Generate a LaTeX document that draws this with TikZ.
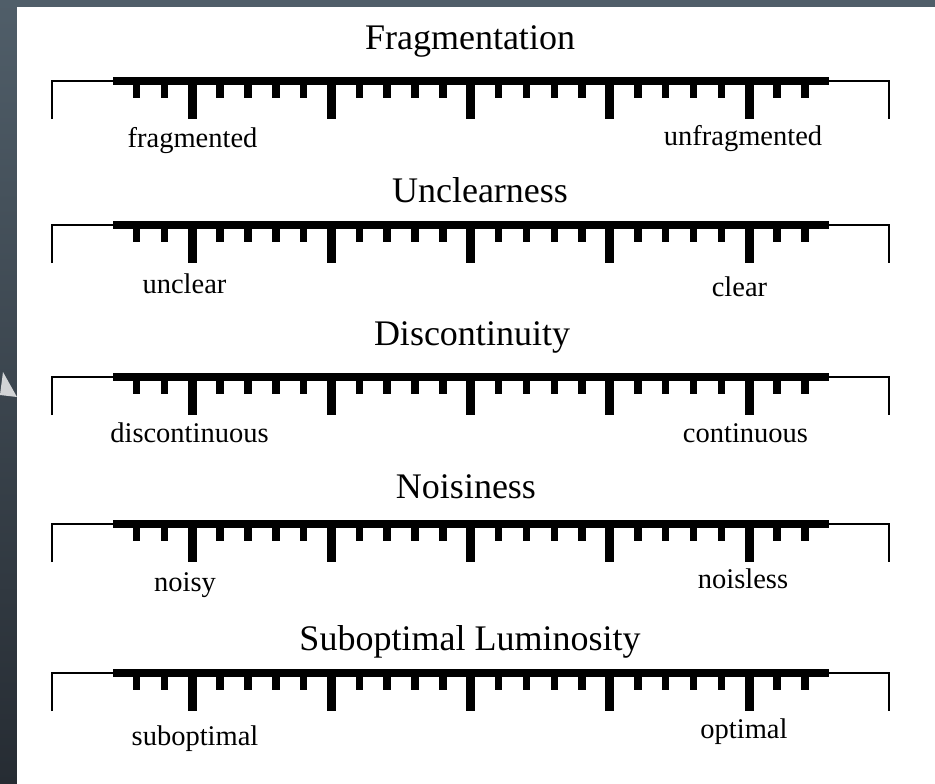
\documentclass[tikz,border=0pt]{standalone}
\usepackage{fontspec}
\setmainfont{Liberation Serif}
\usetikzlibrary{positioning}
\usetikzlibrary{calc}
\definecolor{slatetop}{RGB}{80,94,105}
\definecolor{slatebot}{RGB}{38,44,51}
\definecolor{arrowgray}{RGB}{210,212,214}

\begin{document}
\begin{tikzpicture}[x=1pt,y=-1pt,
  scaletitle/.style={anchor=base,inner sep=0pt,font=\fontsize{36}{40}\selectfont},
  endlabel/.style={anchor=base,inner sep=0pt,font=\fontsize{28.5}{32}\selectfont},
  thinline/.style={line width=2pt},
  bar/.style={line width=8pt},
  shorttick/.style={line width=7.5pt},
  longtick/.style={line width=9pt}]
\useasboundingbox (0,0) rectangle (935,784);
% slide background
\shade[top color=slatetop,bottom color=slatebot] (0,0) rectangle (935,784);
\fill[white] (17,7) rectangle (935,784);
\fill[arrowgray] (0,395) -- (3,372) -- (17,397) -- cycle;

% the five rating scales
\foreach \c in {81,225,377,524,673}{
  \draw[thinline] (52,\c+38) -- (52,\c) -- (113,\c);
  \draw[thinline] (829,\c) -- (889,\c) -- (889,\c+38);
  \draw[bar] (113,\c) -- (829,\c);
  \foreach \k in {0,...,24}
    \draw[shorttick] (136.5+27.85*\k,\c) -- (136.5+27.85*\k,\c+17);
  \foreach \k in {2,7,12,17,22}
    \draw[longtick] (136.5+27.85*\k,\c) -- (136.5+27.85*\k,\c+38);
}

\node[scaletitle] (frag) at (470,50) {Fragmentation};
\node[endlabel] (frag-l) at (192.5,147) {fragmented};
\node[endlabel] (frag-r) at (743,146) {unfragmented};

\node[scaletitle] (uncl) at (480,202) {Unclearness};
\node[endlabel] (uncl-l) at (184.5,293) {unclear};
\node[endlabel] (uncl-r) at (739.5,296) {clear};

\node[scaletitle] (disc) at (472,345) {Discontinuity};
\node[endlabel] (disc-l) at (189.5,442) {discontinuous};
\node[endlabel] (disc-r) at (745.5,442) {continuous};

\node[scaletitle] (nois) at (466,498) {Noisiness};
\node[endlabel] (nois-l) at (185,591) {noisy};
\node[endlabel] (nois-r) at (743,588) {noisless};

\node[scaletitle] (lumi) at (470,650) {Suboptimal Luminosity};
\node[endlabel] (lumi-l) at (195,745) {suboptimal};
\node[endlabel] (lumi-r) at (744,738) {optimal};
\end{tikzpicture}
\end{document}
